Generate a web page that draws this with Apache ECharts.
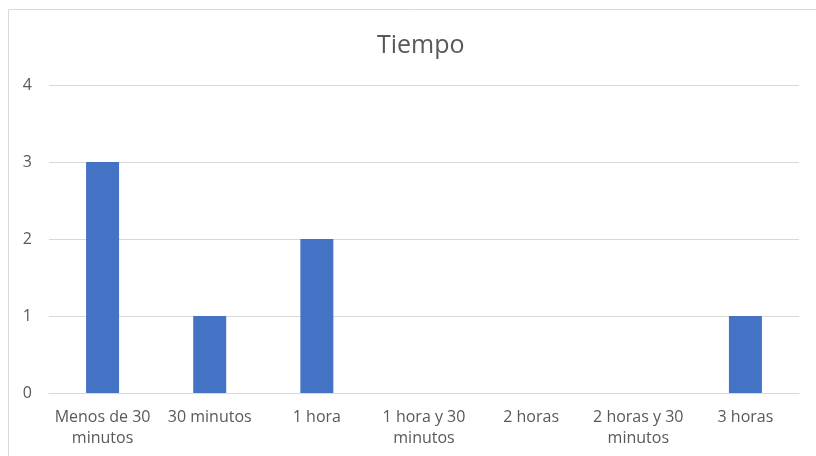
<!DOCTYPE html>
<html>
<head>
<meta charset="utf-8">
<script src="https://cdn.jsdelivr.net/npm/echarts@6/dist/echarts.min.js"></script>
<style>
  html, body { margin: 0; padding: 0; background: #ffffff; }
  #chart { width: 816px; height: 456px; }
</style>
</head>
<body>
<div id="chart"></div>
<script>
// Time spent: number of responses per duration bucket
const categories = ['Menos de 30 minutos', '30 minutos', '1 hora', '1 hora y 30 minutos', '2 horas', '2 horas y 30 minutos', '3 horas'];
const counts = [3, 1, 2, 0, 0, 0, 1];
const yTicks = [0, 1, 2, 3, 4];

const textColor = '#595959';
const fontFamily = '"Open Sans", "Liberation Sans", sans-serif';

const chart = echarts.init(document.getElementById('chart'), null, { renderer: 'canvas' });
chart.setOption({
  animation: false,
  backgroundColor: '#ffffff',
  title: {
    text: 'Tiempo',
    left: 372,
    top: 28,
    textStyle: { color: textColor, fontSize: 25, fontWeight: 'normal', fontFamily: fontFamily }
  },
  graphic: [{
    type: 'rect',
    shape: { x: 8.5, y: 9.5, width: 900, height: 600 },
    style: { fill: 'none', stroke: '#d9d9d9', lineWidth: 1 },
    silent: true
  }],
  grid: { left: 49, right: 17, top: 85, bottom: 63 },
  xAxis: {
    type: 'category',
    data: categories,
    axisTick: { show: false },
    axisLine: { show: true, lineStyle: { color: '#d9d9d9', width: 1 } },
    axisLabel: {
      color: textColor,
      fontSize: 16,
      fontFamily: fontFamily,
      lineHeight: 21,
      margin: 14,
      interval: 0,
      formatter: function (v) {
        if (v.length > 12) {
          const i = v.lastIndexOf(' ');
          return v.slice(0, i) + '\n' + v.slice(i + 1);
        }
        return v;
      }
    }
  },
  yAxis: {
    type: 'value',
    min: yTicks[0],
    max: yTicks[yTicks.length - 1],
    interval: 1,
    axisLine: { show: false },
    axisTick: { show: false },
    splitLine: { lineStyle: { color: '#d9d9d9', width: 1 } },
    axisLabel: { color: textColor, fontSize: 16, fontFamily: fontFamily, margin: 17 }
  },
  series: [{
    type: 'bar',
    data: counts,
    barWidth: 33,
    itemStyle: { color: '#4472C4' }
  }]
});
</script>
</body>
</html>
